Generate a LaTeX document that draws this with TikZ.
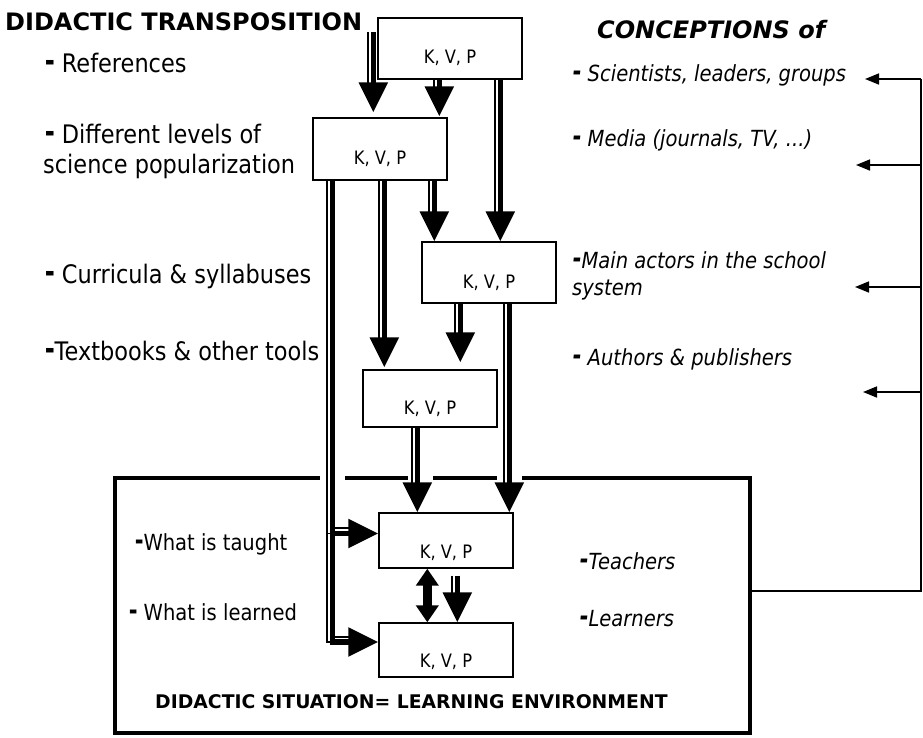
\documentclass[tikz,border=0pt]{standalone}
\usepackage{fontspec}
\setmainfont{DejaVu Sans}
\newfontfamily\narrowfont[FakeStretch=0.88]{DejaVu Sans}
\usetikzlibrary{arrows.meta,calc,backgrounds}
\newcommand\mydash{\scalebox{0.85}[1.4]{\textbf{–}}}
\begin{document}
\begin{tikzpicture}[x=1pt,y=-1pt,
  kbox/.style={draw, line width=1.4pt, fill=white, minimum width=134pt, inner sep=0pt},
  kvp/.style={font=\narrowfont\fontsize{18.5}{22}\selectfont, inner sep=0pt},
  big/.style={line width=5.5pt, -{Triangle[length=30pt,width=28pt]},
    preaction={draw, -, line width=1.7pt, shorten >=26pt, transform canvas={xshift=-5.2pt}}},
  hbig/.style={big, preaction={draw, -, line width=1.7pt, shorten >=26pt, transform canvas={yshift=5.2pt}}},
  dbl/.style={line width=8.5pt, {Triangle[length=17pt,width=22pt]}-{Triangle[length=17pt,width=22pt]}},
  frame/.style={line width=4.5pt},
  fb/.style={line width=1.6pt},
  fbarrow/.style={line width=1.6pt, -{Triangle[length=14pt,width=11pt]}},
  lt/.style={anchor=base west, inner sep=0pt, font=\narrowfont\fontsize{25.5}{30}\selectfont},
  ls/.style={anchor=base west, inner sep=0pt, font=\narrowfont\fontsize{22.2}{26}\selectfont},
  rt/.style={anchor=base west, inner sep=0pt, font=\narrowfont\fontsize{22.2}{26}\selectfont\itshape},
  hd/.style={anchor=base west, inner sep=0pt, font=\fontsize{24}{28}\selectfont\bfseries},
  sit/.style={anchor=base west, inner sep=0pt, font=\fontsize{18.8}{22}\selectfont\bfseries}
]
\useasboundingbox (0,0) rectangle (923,737);

% boxes
\node[kbox, minimum width=144pt, minimum height=61pt, label={[kvp,yshift=-9pt]center:{K, V, P}}] (A) at (450,48.5) {};
\node[kbox, minimum height=62pt, label={[kvp,yshift=-10pt]center:{K, V, P}}] (B) at (380,149) {};
\node[kbox, minimum height=61pt, label={[kvp,yshift=-10pt]center:{K, V, P}}] (C) at (489,272.5) {};
\node[kbox, minimum height=57pt, label={[kvp,yshift=-10pt]center:{K, V, P}}] (D) at (430,398.5) {};
\node[kbox, minimum height=55pt, label={[kvp,yshift=-12pt]center:{K, V, P}}] (E) at (446,540.5) {};
\node[kbox, minimum height=54pt, label={[kvp,yshift=-12pt]center:{K, V, P}}] (F) at (446,650) {};

% situation frame
\node[minimum width=635pt, minimum height=255pt, inner sep=0pt] (S) at (432.5,605.5) {};
\draw[frame] ($(S.north west)+(205,0)$) -- (S.north west) -- (S.south west) -- (S.south east) -- (S.north east) -- ($(S.north east)+(-228,0)$);
\draw[frame] ($(S.north west)+(230,0)$) -- ($(S.north west)+(293,0)$);
\draw[frame] ($(S.north west)+(318,0)$) -- ($(S.north west)+(382,0)$);

% texts
\node[hd] (title) at (5,30) {DIDACTIC TRANSPOSITION};
\node[lt] (ref) at (45,72) {\mydash\ References};
\node[lt] (diff1) at (45,143) {\mydash\ Different levels of};
\node[lt] (diff2) at (43,173) {science popularization};
\node[lt] (curr) at (45,283) {\mydash\ Curricula \& syllabuses};
\node[lt] (tb) at (45,360) {\mydash Textbooks \& other tools};
\node[ls] (taught) at (135,550) {\mydash What is taught};
\node[ls] (learned) at (129,620) {\mydash\ What is learned};

\node[hd, font=\fontsize{24}{28}\selectfont\bfseries\itshape] (conc) at (597,38) {CONCEPTIONS of};
\node[rt] (sci) at (573,81) {\mydash\ Scientists, leaders, groups};
\node[rt] (media) at (573,146) {\mydash\ Media (journals, TV, ...)};
\node[rt] (main1) at (573,268) {\mydash Main actors in the school};
\node[rt] (main2) at (572,295) {system};
\node[rt] (auth) at (573,365) {\mydash\ Authors \& publishers};
\node[rt] (teach) at (580,569) {\mydash Teachers};
\node[rt] (learn) at (580,626) {\mydash Learners};
\node[sit] (dsit) at (155,708) {DIDACTIC SITUATION= LEARNING ENVIRONMENT};

% feedback line
\coordinate (fs) at ($(S.east)+(0,-14.5)$);
\coordinate (fc) at (921,591);
\coordinate (r1) at (921,79);
\coordinate (r2) at (921,165);
\coordinate (r3) at (921,287);
\coordinate (r4) at (921,392);
\coordinate (t1) at (865,79);
\coordinate (t2) at (856,165);
\coordinate (t3) at (855,287);
\coordinate (t4) at (863,392);

\begin{pgfonlayer}{background}
\fill[white] (0,0) rectangle (923,737);
\draw[fb] (fs) -- (fc) -- (r1);
\draw[fbarrow] (r1) -- (t1);
\draw[fbarrow] (r2) -- (t2);
\draw[fbarrow] (r3) -- (t3);
\draw[fbarrow] (r4) -- (t4);

% transposition arrows
\draw[big, shorten >=5pt] ($(A.north west)+(-4,15)$) coordinate (s1) -- (s1 |- B.north);
\draw[big, shorten >=1pt] ($(A.south west)+(62,0)$) coordinate (s2) -- (s2 |- B.north);
\draw[big] ($(A.south west)+(123,0)$) coordinate (s3) -- (s3 |- C.north);
\draw[hbig] ($(B.south west)+(20,0)$) coordinate (s4) |- ($(F.west)+(0,-8)$);
\draw[hbig] (s4) |- ($(E.west)+(0,-7)$);
\draw[big, shorten >=2pt] ($(B.south west)+(72,0)$) coordinate (s5) -- (s5 |- D.north);
\draw[big] ($(B.south west)+(122,0)$) coordinate (s6) -- (s6 |- C.north);
\draw[big, shorten >=7pt] ($(C.south west)+(39,0)$) coordinate (s7) -- (s7 |- D.north);
\draw[big] ($(C.south west)+(88,0)$) coordinate (s8) -- (s8 |- E.north);
\draw[big] ($(D.south west)+(55,0)$) coordinate (s9) -- (s9 |- E.north);
\draw[dbl] ($(E.south west)+(49,0)$) coordinate (s10) -- (s10 |- F.north);
\draw[big] ($(E.south west)+(79,7)$) coordinate (s11) -- (s11 |- F.north);
\end{pgfonlayer}
\end{tikzpicture}
\end{document}
